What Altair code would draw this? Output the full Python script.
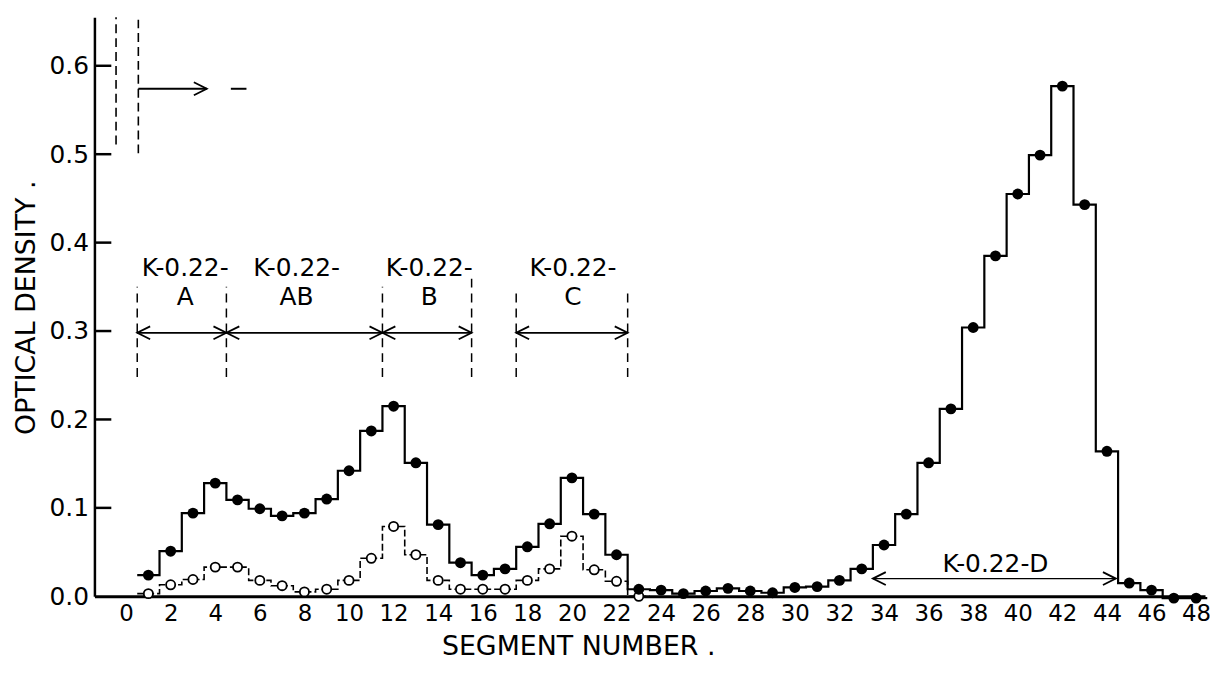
import altair as alt
import pandas as pd

# ---------------- data ----------------
segments = list(range(1, 49))
filled_od = [0.024, 0.051, 0.094, 0.128, 0.109, 0.099, 0.091, 0.094, 0.110, 0.142,
             0.187, 0.215, 0.151, 0.081, 0.038, 0.024, 0.031, 0.056, 0.082, 0.134,
             0.093, 0.047, 0.008, 0.007, 0.003, 0.006, 0.009, 0.006, 0.004, 0.010,
             0.011, 0.018, 0.031, 0.058, 0.093, 0.151, 0.212, 0.304, 0.385, 0.455,
             0.499, 0.577, 0.443, 0.164, 0.015, 0.007, -0.002, -0.002]

open_segments = list(range(1, 24))
open_od = [0.003, 0.013, 0.019, 0.033, 0.033, 0.018, 0.012, 0.005, 0.008, 0.018,
           0.043, 0.079, 0.047, 0.018, 0.008, 0.008, 0.008, 0.018, 0.031, 0.068,
           0.030, 0.017, 0.000]

x_tick_values = list(range(0, 49, 2))
y_tick_values = [0.1, 0.2, 0.3, 0.4, 0.5, 0.6]

# fraction annotations (K-0.22-A, AB, B, C)
frac_letters = ["A", "AB", "B", "C"]
frac_start = [0.5, 4.5, 11.5, 17.5]
frac_end = [4.5, 11.5, 15.5, 22.5]
frac_text_x = [2.65, 7.65, 13.6, 20.05]
frac_arrow_y = 0.298
frac_name_y = 0.371
frac_letter_y = 0.338

bound_x = [0.5, 4.5, 11.5, 15.5, 17.5, 22.5]
bound_top = [0.350, 0.350, 0.350, 0.365, 0.346, 0.346]
bound_bottom = [0.248, 0.248, 0.248, 0.248, 0.248, 0.248]

# upper-left off-scale markers
top_dash_x = [-0.45, 0.55]
top_dash_bottom = [0.511, 0.501]
top_dash_top = [0.655, 0.652]
top_arrow_x = [0.55, 3.62]
top_arrow_y = 0.574
top_bar_x = [4.7, 5.4]

# K-0.22-D annotation
d_arrow_x = [33.5, 44.4]
d_arrow_y = 0.020
d_text = "K-0.22-D"
d_text_x = 39.0
d_text_y = 0.037

FONT = "DejaVu Sans"

# ---------------- helpers ----------------
def step_frame(segs, vals):
    xs = [s - 0.5 for s in segs] + [segs[-1] + 0.5]
    ys = list(vals) + [vals[-1]]
    return pd.DataFrame({"x": xs, "y": ys})

x_scale = alt.Scale(domain=[-1.42, 48.4], nice=False, zero=False)
y_scale = alt.Scale(domain=[0, 0.655], nice=False, zero=False)

x_axis = alt.Axis(values=x_tick_values, format="d", grid=False, ticks=False, tickSize=0,
                  labelFont=FONT, labelFontSize=23, labelColor="black", labelPadding=6,
                  labelOverlap=False, labelBound=False,
                  domainColor="black", domainWidth=3,
                  title="SEGMENT NUMBER .", titleFont=FONT, titleFontSize=27,
                  titleFontWeight="normal", titleColor="black",
                  titleX=487, titleY=51, titleAlign="center", titleBaseline="middle")
y_axis = alt.Axis(values=[0.0] + y_tick_values, format=".1f", grid=False, ticks=False,
                  tickSize=0, labelFont=FONT, labelFontSize=25, labelColor="black",
                  labelPadding=6, domainColor="black", domainWidth=2.5,
                  title="OPTICAL DENSITY .", titleFont=FONT, titleFontSize=27,
                  titleFontWeight="normal", titleColor="black",
                  titleX=-68, titleY=292, titleAlign="center", titleBaseline="middle",
                  titleAngle=-90)

def X(field="x"):
    return alt.X(f"{field}:Q", scale=x_scale, axis=x_axis)

def Y(field="y"):
    return alt.Y(f"{field}:Q", scale=y_scale, axis=y_axis)

# ---------------- layers ----------------
filled_step = alt.Chart(step_frame(segments, filled_od)).mark_line(
    interpolate="step-after", color="black", strokeWidth=2.2
).encode(x=X(), y=Y())

open_step = alt.Chart(step_frame(open_segments, open_od)).mark_line(
    interpolate="step-after", color="black", strokeWidth=1.6, strokeDash=[7, 3]
).encode(x=X(), y=Y())

filled_pts = alt.Chart(pd.DataFrame({"x": segments, "y": filled_od})).mark_circle(
    color="black", size=120, opacity=1
).encode(x=X(), y=Y())

open_pts = alt.Chart(pd.DataFrame({"x": open_segments, "y": open_od})).mark_point(
    shape="circle", filled=True, fill="white", stroke="black", strokeWidth=1.8,
    size=85, opacity=1
).encode(x=X(), y=Y())

# inward y ticks
ytick_layer = alt.Chart(pd.DataFrame({"y": y_tick_values})).mark_rule(
    color="black", strokeWidth=2.5
).encode(x=alt.value(0), x2=alt.value(17), y=Y())

# dashed fraction boundaries
bounds = alt.Chart(pd.DataFrame({"x": bound_x, "y": bound_bottom, "y2": bound_top})).mark_rule(
    color="black", strokeWidth=1.5, strokeDash=[9, 6]
).encode(x=X(), y=Y(), y2="y2:Q")

top_dash = alt.Chart(pd.DataFrame({"x": top_dash_x, "y": top_dash_bottom, "y2": top_dash_top})).mark_rule(
    color="black", strokeWidth=1.6, strokeDash=[9, 5]
).encode(x=X(), y=Y(), y2="y2:Q")

# horizontal arrow shafts
shaft_df = pd.DataFrame({
    "x": frac_start + [top_arrow_x[0], top_bar_x[0], d_arrow_x[0]],
    "x2": frac_end + [top_arrow_x[1], top_bar_x[1], d_arrow_x[1]],
    "y": [frac_arrow_y] * len(frac_start) + [top_arrow_y, top_arrow_y, d_arrow_y],
    "w": [1.8] * len(frac_start) + [2.0, 2.0, 1.2],
})
shafts = alt.Chart(shaft_df).mark_rule(color="black").encode(
    x=X(), x2="x2:Q", y=Y(),
    strokeWidth=alt.StrokeWidth("w:Q", scale=None, legend=None))

# arrowheads
right_heads_df = pd.DataFrame({
    "x": frac_end + [top_arrow_x[1], d_arrow_x[1]],
    "y": [frac_arrow_y] * len(frac_end) + [top_arrow_y, d_arrow_y],
})
left_heads_df = pd.DataFrame({
    "x": frac_start + [d_arrow_x[0]],
    "y": [frac_arrow_y] * len(frac_start) + [d_arrow_y],
})
right_heads = alt.Chart(right_heads_df).mark_point(
    shape="M-1,-0.5L0,0L-1,0.5", filled=False, stroke="black", strokeWidth=1.8,
    size=676, opacity=1
).encode(x=X(), y=Y())
left_heads = alt.Chart(left_heads_df).mark_point(
    shape="M1,-0.5L0,0L1,0.5", filled=False, stroke="black", strokeWidth=1.8,
    size=676, opacity=1
).encode(x=X(), y=Y())

# texts
name_df = pd.DataFrame({"x": frac_text_x, "y": [frac_name_y] * 4, "t": ["K-0.22-"] * 4})
letter_df = pd.DataFrame({"x": frac_text_x, "y": [frac_letter_y] * 4, "t": frac_letters})
d_df = pd.DataFrame({"x": [d_text_x], "y": [d_text_y], "t": [d_text]})
text_df = pd.concat([name_df, letter_df, d_df], ignore_index=True)
texts = alt.Chart(text_df).mark_text(
    font=FONT, fontSize=25, color="black", align="center", baseline="middle"
).encode(x=X(), y=Y(), text="t:N")

chart = alt.layer(
    bounds, top_dash, shafts, right_heads, left_heads, texts,
    open_step, filled_step, open_pts, filled_pts, ytick_layer
).properties(
    width=1118, height=583, autosize="none",
    padding={"left": 87, "top": 7, "right": 5, "bottom": 75},
    background="white"
).configure_view(stroke=None)

chart.save("out.html", embed_options={"renderer": "svg", "actions": False})
